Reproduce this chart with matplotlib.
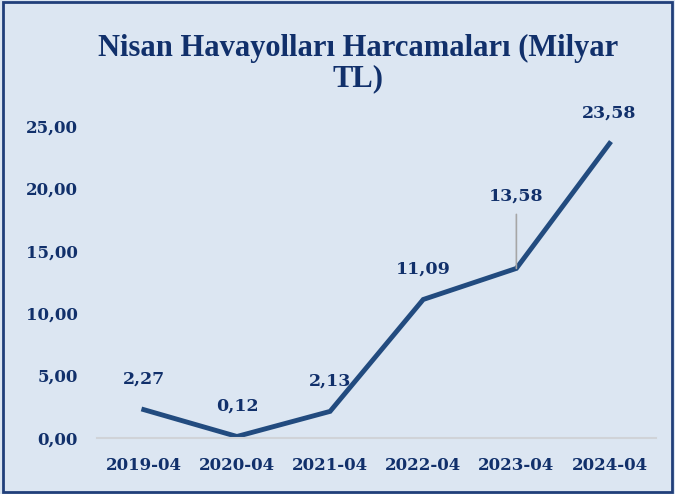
import matplotlib.pyplot as plt
from matplotlib.patches import Rectangle

months = ["2019-04", "2020-04", "2021-04", "2022-04", "2023-04", "2024-04"]
spend = [2.27, 0.12, 2.13, 11.09, 13.58, 23.58]
yticks = [0, 5, 10, 15, 20, 25]

bg = "#dce6f2"
navy = "#11306b"
line_col = "#224b7f"


def tr(v):
    return f"{v:.2f}".replace(".", ",")


fig = plt.figure(figsize=(6.75, 4.94), dpi=100, facecolor=bg)
ax = fig.add_axes([0.144, 0.1134, 0.828, 0.632], facecolor=bg)

x = range(len(months))
ax.plot(x, spend, color=line_col, lw=3.5, solid_joinstyle="miter", clip_on=False)

for i, v in enumerate(spend):
    if i == 4:
        ax.annotate(tr(v), (i, v), xytext=(0, 52), textcoords="offset points",
                    ha="center", va="center", fontsize=12.5, fontweight="bold",
                    color=navy, family="DejaVu Serif",
                    arrowprops=dict(arrowstyle="-", color="#a6a6a6", lw=1.2,
                                    shrinkA=5, shrinkB=0))
    else:
        ax.annotate(tr(v), (i, v), xytext=(0, 22), textcoords="offset points",
                    ha="center", va="center", fontsize=12.5, fontweight="bold",
                    color=navy, family="DejaVu Serif")

ax.set_xlim(-0.5, len(months) - 0.5)
ax.set_ylim(0, 25)
ax.set_xticks(list(x))
ax.set_xticklabels(months)
ax.set_yticks(yticks)
ax.set_yticklabels([tr(t) for t in yticks])
for lab in ax.get_xticklabels() + ax.get_yticklabels():
    lab.set_family("DejaVu Serif")
    lab.set_fontweight("bold")
    lab.set_fontsize(12)
    lab.set_color(navy)
ax.tick_params(axis="both", length=0)
ax.tick_params(axis="y", pad=14)
ax.tick_params(axis="x", pad=14)

for s in ["top", "right", "left"]:
    ax.spines[s].set_visible(False)
ax.spines["bottom"].set_color("#d0d3d8")
ax.spines["bottom"].set_linewidth(1.5)

fig.text(0.53, 0.872, "Nisan Havayolları Harcamaları (Milyar\nTL)", ha="center",
         va="center", fontsize=22, fontweight="bold", color=navy,
         family="Liberation Serif", linespacing=1.05)

fig.patches.append(Rectangle((0.004, 0.004), 0.992, 0.992, transform=fig.transFigure,
                             fill=False, edgecolor="#213f7a", lw=2))

fig.savefig("out.png", dpi=100, facecolor=bg)
